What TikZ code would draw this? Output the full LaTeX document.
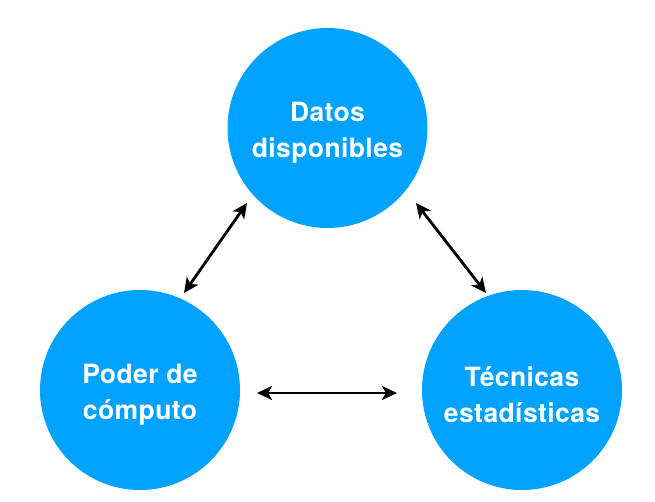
\documentclass[tikz,border=0pt]{standalone}
\usepackage{fontspec}
\setmainfont{TeX Gyre Heros}[LetterSpace=1.5]
\usetikzlibrary{arrows.meta}
\definecolor{bub}{HTML}{00A2FF}
\begin{document}
\begin{tikzpicture}[x=1pt,y=-1pt,
  bubble/.style={circle,fill=bub,minimum size=200pt,inner sep=0pt},
  lbl/.style={text=white,align=center,inner sep=0pt,
    font=\fontsize{26.5}{36}\selectfont\bfseries},
  link/.style={line width=2.8pt,{Stealth[length=15pt,width=14pt,inset=4pt]}-{Stealth[length=15pt,width=14pt,inset=4pt]}}]
\useasboundingbox (0,0) rectangle (655,501);
\node[bubble] (datos) at (327.5,128) {};
\node[bubble] (poder) at (140,390) {};
\node[bubble] (tec) at (522,390) {};
\node[lbl] (tdatos) at ([yshift=-4.5pt]datos.center) {Datos\\disponibles};
\node[lbl] (tpoder) at ([yshift=-4.5pt]poder.center) {Poder de\\cómputo};
\node[lbl] (ttec) at ([yshift=-4.5pt]tec.center) {Técnicas\\estadísticas};
\coordinate (a1) at (247,203);
\coordinate (a2) at (184,293);
\coordinate (b1) at (416,203);
\coordinate (b2) at (486,293);
\coordinate (c1) at (257,393);
\coordinate (c2) at (397,393);
\draw[link] (a1) -- (a2);
\draw[link] (b1) -- (b2);
\draw[link] (c1) -- (c2);
\end{tikzpicture}
\end{document}
